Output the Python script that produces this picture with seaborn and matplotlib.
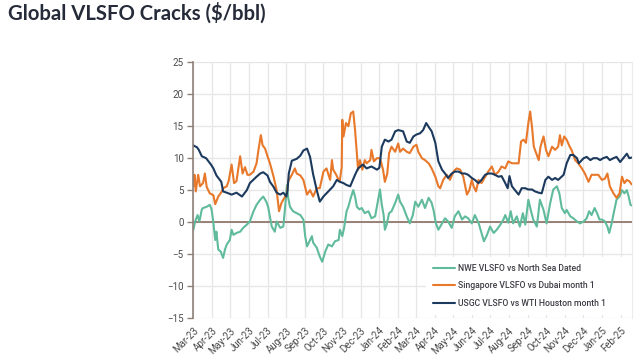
import pandas as pd
import matplotlib
matplotlib.use("Agg")
import matplotlib.pyplot as plt
import matplotlib.dates as mdates
import seaborn as sns

# NWE VLSFO vs North Sea Dated
nwe_dates = [
    "2023-03-01", "2023-03-04", "2023-03-08", "2023-03-11", "2023-03-15", "2023-03-17", "2023-03-23",
    "2023-03-28", "2023-03-31", "2023-04-03", "2023-04-06", "2023-04-08", "2023-04-11", "2023-04-15",
    "2023-04-19", "2023-04-22", "2023-04-25", "2023-04-30", "2023-05-03", "2023-05-06", "2023-05-11",
    "2023-05-17", "2023-05-22", "2023-05-28", "2023-06-02", "2023-06-08", "2023-06-13", "2023-06-19",
    "2023-06-24", "2023-06-29", "2023-07-02", "2023-07-08", "2023-07-13", "2023-07-16", "2023-07-22",
    "2023-07-27", "2023-07-30", "2023-08-02", "2023-08-04", "2023-08-07", "2023-08-12", "2023-08-18",
    "2023-08-24", "2023-08-29", "2023-09-01", "2023-09-04", "2023-09-08", "2023-09-12", "2023-09-14",
    "2023-09-20", "2023-09-25", "2023-09-29", "2023-10-04", "2023-10-09", "2023-10-15", "2023-10-20",
    "2023-10-26", "2023-10-28", "2023-11-01", "2023-11-04", "2023-11-08", "2023-11-11", "2023-11-15",
    "2023-11-19", "2023-11-22", "2023-11-25", "2023-11-29", "2023-12-03", "2023-12-08", "2023-12-14",
    "2023-12-19", "2023-12-25", "2023-12-30", "2024-01-02", "2024-01-05", "2024-01-08", "2024-01-10",
    "2024-01-13", "2024-01-17", "2024-01-21", "2024-01-27", "2024-02-01", "2024-02-04", "2024-02-09",
    "2024-02-15", "2024-02-20", "2024-02-25", "2024-02-29", "2024-03-05", "2024-03-11", "2024-03-16",
    "2024-03-22", "2024-03-27", "2024-03-30", "2024-04-03", "2024-04-07", "2024-04-13", "2024-04-18",
    "2024-04-23", "2024-04-29", "2024-05-04", "2024-05-10", "2024-05-16", "2024-05-21", "2024-05-26",
    "2024-06-01", "2024-06-06", "2024-06-12", "2024-06-17", "2024-06-21", "2024-06-26", "2024-07-01",
    "2024-07-07", "2024-07-12", "2024-07-18", "2024-07-23", "2024-07-26", "2024-07-31", "2024-08-04",
    "2024-08-08", "2024-08-14", "2024-08-19", "2024-08-24", "2024-08-28", "2024-09-02", "2024-09-06",
    "2024-09-10", "2024-09-16", "2024-09-21", "2024-09-27", "2024-10-02", "2024-10-08", "2024-10-13",
    "2024-10-19", "2024-10-23", "2024-10-27", "2024-11-01", "2024-11-04", "2024-11-10", "2024-11-15",
    "2024-11-21", "2024-11-26", "2024-12-02", "2024-12-07", "2024-12-11", "2024-12-15", "2024-12-20",
    "2024-12-24", "2024-12-28", "2025-01-01", "2025-01-06", "2025-01-10", "2025-01-13", "2025-01-17",
    "2025-01-21", "2025-01-25", "2025-01-30", "2025-02-03", "2025-02-07", "2025-02-11", "2025-02-14",
    "2025-02-17", "2025-02-19",
]
nwe_vals = [
    -1.2, 0.1, 1.1, 0.1, 2.0, 2.2, 2.4,
    2.7, 2.0, -0.1, -2.8, -1.5, -4.3, -4.6,
    -5.6, -4.3, -3.5, -2.8, -1.2, -2.0, -1.7,
    -1.5, -0.9, -0.4, 0.1, 1.7, 2.7, 3.5,
    4.0, 3.2, 2.4, -0.7, -1.5, 0.1, -0.9,
    -0.7, 2.4, 5.8, 3.8, 2.4, 1.7, 1.4,
    1.1, 0.4, -2.2, -3.8, -3.0, -2.2, -3.2,
    -4.0, -5.4, -6.2, -4.6, -3.5, -3.8, -3.0,
    -2.8, -1.2, -2.2, -0.9, 1.7, 2.4, 3.8,
    5.0, 4.0, 2.4, 2.0, 2.2, 1.4, 1.7,
    0.6, 0.9, 3.5, 5.1, 2.7, 1.1, -1.2,
    -0.4, 1.4, 1.7, 3.0, 4.3, 3.2, 2.4,
    0.9, -0.2, 1.1, 3.2, 2.4, 3.5, 2.2,
    3.8, 3.0, 1.9, -0.2, -1.2, -0.2, 0.6,
    0.1, -0.9, 0.9, 1.7, 0.4, 0.9, 0.6,
    -0.2, 1.1, -0.1, -1.7, -3.0, -2.0, -0.7,
    -1.7, -1.2, -0.4, 0.4, 1.1, -0.1, 1.7,
    -0.2, 0.9, -0.7, 1.4, -0.4, 3.5, 1.9,
    0.4, -0.7, 3.5, 1.9, -0.2, 3.0, 5.1,
    5.6, 4.5, 2.2, 1.4, 1.9, 0.9, 0.6,
    0.1, -0.2, 0.1, 0.6, 1.7, 1.1, 2.2,
    1.4, 0.4, 0.4, 0.1, -0.7, -1.7, -0.2,
    1.7, 3.5, 4.0, 5.0, 4.5, 5.0, 4.0,
    2.7, 2.6,
]

# Singapore VLSFO vs Dubai month 1
sing_dates = [
    "2023-03-01", "2023-03-03", "2023-03-05", "2023-03-09", "2023-03-12", "2023-03-17", "2023-03-20",
    "2023-03-23", "2023-03-28", "2023-04-03", "2023-04-06", "2023-04-11", "2023-04-17", "2023-04-19",
    "2023-04-25", "2023-04-28", "2023-05-03", "2023-05-07", "2023-05-11", "2023-05-17", "2023-05-21",
    "2023-05-25", "2023-05-29", "2023-06-02", "2023-06-08", "2023-06-13", "2023-06-16", "2023-06-20",
    "2023-06-23", "2023-06-27", "2023-07-01", "2023-07-05", "2023-07-11", "2023-07-16", "2023-07-20",
    "2023-07-24", "2023-07-30", "2023-08-02", "2023-08-04", "2023-08-10", "2023-08-15", "2023-08-18",
    "2023-08-24", "2023-08-29", "2023-09-04", "2023-09-09", "2023-09-14", "2023-09-20", "2023-09-25",
    "2023-10-01", "2023-10-06", "2023-10-12", "2023-10-15", "2023-10-17", "2023-10-22", "2023-10-26",
    "2023-10-28", "2023-10-31", "2023-11-01", "2023-11-03", "2023-11-07", "2023-11-11", "2023-11-15",
    "2023-11-19", "2023-11-22", "2023-11-25", "2023-11-27", "2023-11-30", "2023-12-04", "2023-12-08",
    "2023-12-11", "2023-12-17", "2023-12-19", "2023-12-23", "2023-12-28", "2024-01-02", "2024-01-07",
    "2024-01-10", "2024-01-14", "2024-01-17", "2024-01-21", "2024-01-27", "2024-02-01", "2024-02-04",
    "2024-02-09", "2024-02-15", "2024-02-20", "2024-02-26", "2024-03-02", "2024-03-05", "2024-03-11",
    "2024-03-16", "2024-03-22", "2024-03-27", "2024-04-02", "2024-04-07", "2024-04-10", "2024-04-15",
    "2024-04-21", "2024-04-26", "2024-05-02", "2024-05-07", "2024-05-13", "2024-05-18", "2024-05-24",
    "2024-05-28", "2024-06-01", "2024-06-04", "2024-06-08", "2024-06-12", "2024-06-17", "2024-06-23",
    "2024-06-28", "2024-07-04", "2024-07-09", "2024-07-15", "2024-07-20", "2024-07-26", "2024-07-31",
    "2024-08-06", "2024-08-11", "2024-08-17", "2024-08-21", "2024-08-25", "2024-08-29", "2024-09-02",
    "2024-09-05", "2024-09-08", "2024-09-11", "2024-09-16", "2024-09-19", "2024-09-22", "2024-09-27",
    "2024-10-01", "2024-10-05", "2024-10-11", "2024-10-16", "2024-10-21", "2024-10-24", "2024-10-27",
    "2024-10-31", "2024-11-04", "2024-11-09", "2024-11-12", "2024-11-18", "2024-11-23", "2024-11-29",
    "2024-12-04", "2024-12-10", "2024-12-15", "2024-12-21", "2024-12-26", "2025-01-01", "2025-01-06",
    "2025-01-10", "2025-01-14", "2025-01-20", "2025-01-25", "2025-01-30", "2025-02-03", "2025-02-07",
    "2025-02-11", "2025-02-15", "2025-02-19",
]
sing_vals = [
    5.6, 7.4, 4.8, 7.4, 5.6, 6.1, 7.6,
    5.5, 4.5, 4.2, 2.8, 4.0, 4.8, 5.3,
    5.6, 6.4, 9.0, 6.1, 6.4, 10.3, 7.6,
    8.6, 7.4, 7.4, 7.9, 9.2, 11.2, 13.6,
    12.0, 11.5, 10.3, 9.2, 7.1, 5.0, 1.7,
    3.0, 4.0, 4.5, 6.4, 7.4, 8.4, 7.6,
    7.3, 6.6, 4.3, 5.0, 4.0, 5.3, 5.3,
    7.9, 8.4, 6.6, 9.7, 8.2, 7.4, 6.6,
    6.5, 8.6, 16.0, 13.4, 15.5, 15.0, 17.0,
    17.3, 14.4, 10.8, 8.2, 9.7, 8.2, 9.7,
    9.2, 9.7, 11.3, 9.5, 10.0, 10.0, 8.2,
    6.3, 7.6, 10.8, 11.8, 11.0, 12.3, 11.0,
    11.5, 11.0, 10.8, 11.8, 12.1, 11.0, 10.0,
    9.7, 9.2, 8.4, 7.1, 5.6, 5.3, 6.6,
    7.4, 6.6, 7.9, 8.4, 8.2, 7.1, 4.3,
    5.0, 6.6, 5.6, 4.8, 6.6, 6.1, 7.1,
    7.9, 8.7, 7.4, 7.9, 8.7, 8.4, 9.5,
    9.2, 9.2, 9.2, 12.6, 12.9, 12.4, 15.5,
    17.3, 14.9, 11.8, 10.5, 9.7, 11.8, 13.4,
    11.3, 10.3, 11.8, 11.3, 11.8, 13.6, 12.0,
    13.4, 12.9, 11.8, 11.3, 9.7, 9.2, 8.4,
    7.6, 6.3, 7.4, 7.4, 7.4, 6.6, 6.8,
    7.6, 5.6, 4.5, 3.8, 4.5, 7.1, 6.1,
    6.6, 6.4, 5.9,
]

# USGC VLSFO vs WTI Houston month 1
usgc_dates = [
    "2023-03-01", "2023-03-07", "2023-03-10", "2023-03-15", "2023-03-22", "2023-03-30", "2023-04-03",
    "2023-04-08", "2023-04-16", "2023-04-19", "2023-04-25", "2023-05-03", "2023-05-11", "2023-05-20",
    "2023-05-28", "2023-06-02", "2023-06-13", "2023-06-19", "2023-06-24", "2023-07-01", "2023-07-05",
    "2023-07-11", "2023-07-16", "2023-07-22", "2023-07-27", "2023-08-01", "2023-08-03", "2023-08-05",
    "2023-08-10", "2023-08-18", "2023-08-24", "2023-08-29", "2023-09-04", "2023-09-09", "2023-09-14",
    "2023-09-20", "2023-09-25", "2023-10-01", "2023-10-06", "2023-10-12", "2023-10-17", "2023-10-23",
    "2023-10-28", "2023-11-03", "2023-11-08", "2023-11-14", "2023-11-22", "2023-11-27", "2023-12-05",
    "2023-12-11", "2023-12-19", "2023-12-28", "2024-01-01", "2024-01-05", "2024-01-10", "2024-01-16",
    "2024-01-21", "2024-01-27", "2024-02-01", "2024-02-09", "2024-02-15", "2024-02-20", "2024-02-26",
    "2024-03-02", "2024-03-08", "2024-03-13", "2024-03-18", "2024-03-22", "2024-03-27", "2024-04-02",
    "2024-04-07", "2024-04-13", "2024-04-18", "2024-04-23", "2024-04-29", "2024-05-04", "2024-05-10",
    "2024-05-16", "2024-05-21", "2024-05-26", "2024-06-01", "2024-06-06", "2024-06-12", "2024-06-17",
    "2024-06-23", "2024-06-28", "2024-07-04", "2024-07-09", "2024-07-15", "2024-07-20", "2024-07-26",
    "2024-07-30", "2024-08-02", "2024-08-06", "2024-08-11", "2024-08-17", "2024-08-22", "2024-08-28",
    "2024-09-02", "2024-09-08", "2024-09-13", "2024-09-19", "2024-09-24", "2024-09-30", "2024-10-05",
    "2024-10-11", "2024-10-16", "2024-10-21", "2024-10-30", "2024-11-04", "2024-11-10", "2024-11-15",
    "2024-11-21", "2024-11-24", "2024-12-02", "2024-12-07", "2024-12-13", "2024-12-18", "2024-12-24",
    "2024-12-29", "2025-01-03", "2025-01-09", "2025-01-14", "2025-01-20", "2025-01-25", "2025-01-31",
    "2025-02-05", "2025-02-11", "2025-02-15", "2025-02-19",
]
usgc_vals = [
    12.0, 11.7, 11.3, 10.3, 10.0, 9.0, 8.4,
    7.3, 6.3, 4.8, 4.6, 4.3, 4.6, 4.0,
    5.0, 6.1, 7.1, 7.6, 7.8, 7.3, 6.3,
    5.5, 4.6, 4.3, 4.6, 4.0, 5.0, 7.6,
    9.6, 9.9, 10.4, 11.2, 11.5, 10.2, 7.5,
    5.0, 3.2, 4.0, 4.5, 5.1, 5.6, 6.6,
    6.3, 6.1, 5.8, 5.6, 7.4, 8.4, 9.0,
    8.4, 8.7, 8.2, 8.5, 11.8, 12.9, 12.6,
    12.9, 14.2, 14.4, 14.2, 12.6, 12.4, 13.4,
    13.7, 13.9, 14.4, 15.5, 14.9, 14.2, 12.4,
    9.5, 8.2, 7.6, 6.9, 7.6, 7.9, 7.9,
    7.6, 7.6, 7.4, 6.9, 6.6, 6.1, 6.6,
    7.4, 7.6, 7.6, 7.4, 7.1, 7.2, 6.1,
    5.3, 7.2, 5.6, 5.0, 4.3, 5.3, 5.3,
    5.1, 5.1, 4.8, 4.6, 4.5, 6.6, 7.1,
    6.6, 6.9, 6.6, 7.4, 9.2, 10.5, 10.5,
    10.0, 9.2, 10.0, 10.2, 9.7, 10.0, 10.0,
    9.7, 10.0, 10.2, 9.7, 10.0, 10.2, 9.4,
    10.0, 10.7, 10.0, 10.1,
]

series_names = [
    "NWE VLSFO vs North Sea Dated",
    "Singapore VLSFO vs Dubai month 1",
    "USGC VLSFO vs WTI Houston month 1",
]
colors = ["#5fbb9c", "#e8782a", "#1c3a5e"]

frames = []
for name, d, v in zip(series_names, [nwe_dates, sing_dates, usgc_dates], [nwe_vals, sing_vals, usgc_vals]):
    frames.append(pd.DataFrame({"date": pd.to_datetime(d), "value": v, "series": name}))
df = pd.concat(frames, ignore_index=True)

sns.set_style("whitegrid")
plt.rcParams["font.family"] = ["Roboto", "DejaVu Sans"]

fig = plt.figure(figsize=(6.41, 3.63), dpi=100)
ax = fig.add_axes([0.3016, 0.124, 0.6839, 0.7044])

ax.axhline(0, color="#8b6d5f", lw=1.2, zorder=1)
sns.lineplot(data=df, x="date", y="value", hue="series", hue_order=series_names,
             palette=colors, estimator=None, sort=True, lw=1.5, ax=ax, zorder=2)

ax.set_xlim(pd.Timestamp("2023-03-01"), pd.Timestamp("2025-02-19"))
ax.set_ylim(-15, 25)
ax.set_yticks(range(-15, 26, 5))
ax.xaxis.set_major_locator(mdates.MonthLocator())
ax.xaxis.set_major_formatter(mdates.DateFormatter("%b-%y"))
ax.set_xlabel("")
ax.set_ylabel("")

ax.grid(True, color="#e6e6e6", lw=0.9)
for s in ["top", "bottom"]:
    ax.spines[s].set_visible(False)
ax.spines["right"].set_color("#ececec")
ax.spines["left"].set_color("#8f8079")
ax.spines["left"].set_linewidth(1.2)

ax.tick_params(axis="y", left=True, length=4, width=1, color="#8f8079",
               labelsize=7, labelcolor="#4a4a4a", pad=3)
ax.tick_params(axis="x", bottom=False, labelsize=7, labelcolor="#4a4a4a", pad=2)
plt.setp(ax.get_xticklabels(), rotation=45, ha="right", rotation_mode="anchor")

# legend box with white face covering the grid, as in the original
handles, labels = ax.get_legend_handles_labels()
leg = ax.legend(handles, labels, loc="lower left", bbox_to_anchor=(0.53, 0.012, 0.47, 0.22),
                mode="expand", fontsize=6.2, frameon=True, facecolor="white", edgecolor="none",
                framealpha=1, fancybox=False, handlelength=2.6, handletextpad=0.3,
                labelspacing=0.95, borderpad=0.85, borderaxespad=0)
for t in leg.get_texts():
    t.set_color("#3d3d45")
    t.set_fontweight("medium")

fig.text(0.012, 0.965, r"Global VLSFO Cracks (\$/bbl)", fontsize=14.6, fontweight="bold",
         color="#262b3a", family=["Lato", "DejaVu Sans"], va="center", ha="left")

fig.savefig("out.png", dpi=100)
